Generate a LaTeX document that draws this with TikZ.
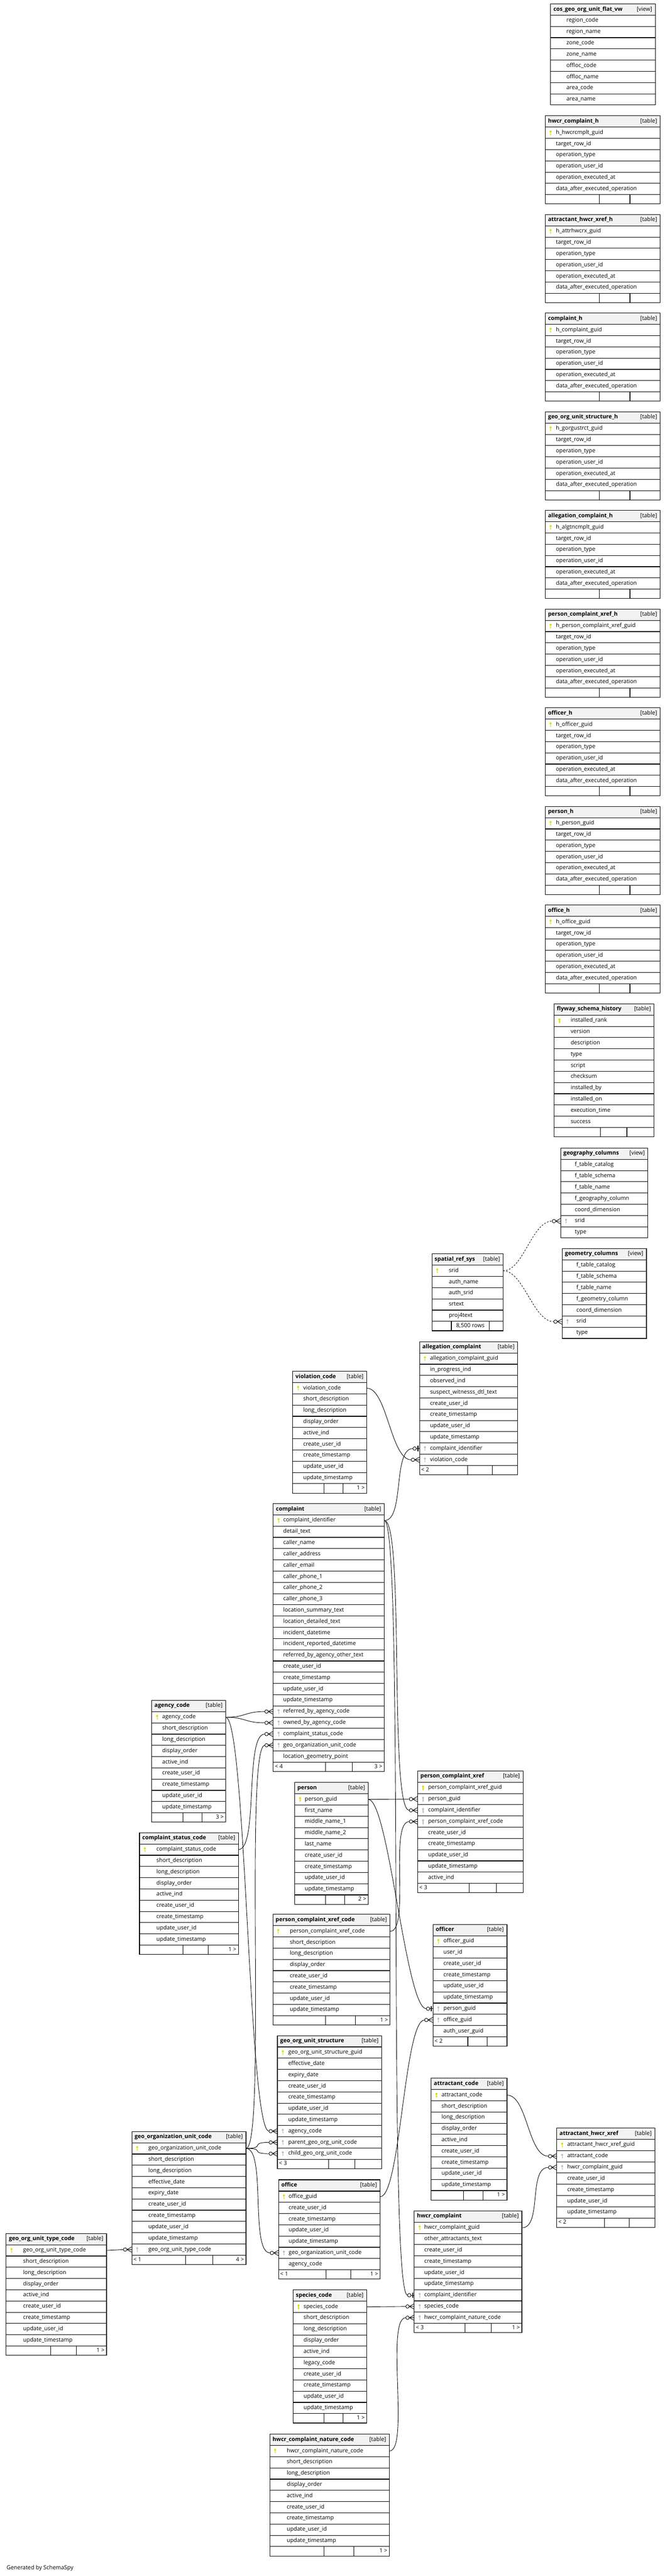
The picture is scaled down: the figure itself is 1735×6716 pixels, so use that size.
\documentclass[tikz,border=0pt]{standalone}
\usepackage{fontspec}
\setmainfont{Open Sans}
\usepackage{tikz}
\usetikzlibrary{positioning}
\definecolor{colorhead}{RGB}{242,242,242}
\definecolor{colorpk}  {RGB}{222,222,0  }
\definecolor{colorfk}  {RGB}{190,190,190}
\definecolor{colortext}{RGB}{0  ,0  ,0  }
\pgfdeclarelayer{links}
\pgfsetlayers{links,main}
\def\flagp{p}
\def\flagf{f}

% #1 name, #2 left, #3 top, #4 width, #5 text indent, #6 kind, #7 columns
\newcommand{\dbtable}[7]{%
  \pgfmathsetmacro\tx{#2}\pgfmathsetmacro\ty{#3}\pgfmathsetmacro\tw{#4}%
  \pgfmathsetmacro\tcx{\tx+\tw/2}%
  \node[headbox,minimum width=\tw*0.75pt] (#1) at (\tcx,\ty+14.75) {};
  \node[headtxt,anchor=west] (#1-title) at (\tx+7,\ty+14.75) {\bfseries #1};
  \node[headtxt,anchor=east] (#1-kind) at (\tx+\tw-8,\ty+14.75) {[#6]};
  \foreach \k/\col [count=\i] in {#7} {
    \pgfmathsetmacro\ry{\ty+29.5+(\i-0.5)*29.3}
    \node[rowbox,minimum width=\tw*0.75pt] (#1-\i) at (\tcx,\ry) {};
    \node[coltxt,anchor=west] (#1-\i-txt) at (\tx+#5,\ry) {\col};
    \ifx\k\flagp \pic[color=colorpk] at (\tx+14,\ry) {keyicon};\fi
    \ifx\k\flagf \pic[color=colorfk] at (\tx+14,\ry) {keyicon};\fi
    \xdef\tn{\i}
  }
}
% #1 name, #2 #3 cell borders, #4 left, #5 middle, #6 right
\newcommand{\dbfoot}[6]{%
  \pgfmathsetmacro\fy{\ty+29.5+\tn*29.3+12.25}%
  \node[footbox,minimum width=\tw*0.75pt] (#1-foot) at (\tcx,\fy) {};
  \draw[cellline] (#2,\fy-12.25) -- (#2,\fy+12.25) (#3,\fy-12.25) -- (#3,\fy+12.25);
  \node[foottxt,anchor=west] (#1-left) at (\tx+4,\fy) {#4};
  \node[foottxt] (#1-mid) at ({(#2+#3)/2},\fy) {#5};
  \node[foottxt,anchor=east] (#1-right) at (\tx+\tw-5,\fy) {#6};
}
% relations: parent key row -> child row
\newcommand{\linkmany}[2]{%
  \begin{pgfonlayer}{links}
    \draw[link] (#1.east) .. controls ([xshift=40pt]#1.east) and ([xshift=-56.5pt]#2.west) .. ([xshift=-16.5pt]#2.west);
  \end{pgfonlayer}
  \pic at (#2.west) {manyend};
}
\newcommand{\linkone}[2]{%
  \begin{pgfonlayer}{links}
    \draw[link] (#1.east) .. controls ([xshift=40pt]#1.east) and ([xshift=-53.1pt]#2.west) .. ([xshift=-13.1pt]#2.west);
  \end{pgfonlayer}
  \pic at (#2.west) {oneend};
}
\newcommand{\linkflat}[2]{%
  \begin{pgfonlayer}{links}
    \draw[link] (#1.east) -- ([xshift=-16.5pt]#2.west);
  \end{pgfonlayer}
  \pic at (#2.west) {manyend};
}
\newcommand{\linkview}[2]{%
  \begin{pgfonlayer}{links}
    \draw[link,dashed] (#1.east) .. controls ([xshift=40pt]#1.east) and ([xshift=-56.5pt]#2.west) .. ([xshift=-16.5pt]#2.west);
  \end{pgfonlayer}
  \pic at (#2.west) {manyend};
}

\begin{document}
\catcode`\_=12
\begin{tikzpicture}[
    x=0.75pt, y=-0.75pt,
    font={\fontsize{11}{13}\selectfont},
    headbox/.style={draw=colortext,fill=colorhead,line width=1.1pt,minimum height=29.5*0.75pt,inner sep=0pt,outer sep=0pt,rectangle},
    rowbox/.style={draw=colortext,fill=white,line width=1.1pt,minimum height=29.3*0.75pt,inner sep=0pt,outer sep=0pt,rectangle},
    footbox/.style={rowbox,minimum height=24.5*0.75pt},
    cellline/.style={draw=colortext,line width=1.1pt},
    headtxt/.style={inner sep=0pt,text=colortext,text height=7.9pt,text depth=2.6pt},
    coltxt/.style={inner sep=0pt,text=colortext,text height=7.9pt,text depth=2.6pt},
    foottxt/.style={inner sep=0pt,text=colortext,text height=7.9pt,text depth=2.6pt},
    link/.style={draw=colortext,line width=0.9pt},
    keyicon/.pic={
      \fill (0,-3.4) circle[radius=2.7];
      \draw[line width=1.3pt] (0,-2) -- (0,6.5);
      \draw[line width=1pt] (0,3.6) -- (2.2,3.6);
    },
    manyend/.pic={
      \draw[line width=0.9pt] (-13,0) -- (0,0) (-13,0) -- (0,-7) (-13,0) -- (0,7);
      \draw[line width=0.9pt,fill=white] (-17.5,0) circle[radius=4.5];
    },
    oneend/.pic={
      \draw[line width=0.9pt] (-8.5,0) -- (0,0);
      \draw[line width=1.8pt] (-4,-7) -- (-4,7);
      \draw[line width=0.9pt,fill=white] (-13,0) circle[radius=4.5];
    },
]
    \useasboundingbox (0,0) rectangle (1735,6716);

    % Views
    \dbtable{cos_geo_org_unit_flat_vw}{1437}{10}{273}{41}{view}{n/region_code, n/region_name, n/zone_code, n/zone_name, n/offloc_code, n/offloc_name, n/area_code, n/area_name}
    \dbtable{geography_columns}{1463}{2993}{228}{37}{view}{n/f_table_catalog, n/f_table_schema, n/f_table_name, n/f_geography_column, n/coord_dimension, f/srid, n/type}
    \dbtable{geometry_columns}{1467}{3255}{220}{37}{view}{n/f_table_catalog, n/f_table_schema, n/f_table_name, n/f_geometry_column, n/coord_dimension, f/srid, n/type}

    % History tables
    \foreach \hname/\hkey [count=\j] in {hwcr_complaint_h/h_hwcrcmplt_guid, attractant_hwcr_xref_h/h_attrhwcrx_guid, complaint_h/h_complaint_guid, geo_org_unit_structure_h/h_gorgustrct_guid, allegation_complaint_h/h_algtncmplt_guid, person_complaint_xref_h/h_person_complaint_xref_guid, officer_h/h_officer_guid, person_h/h_person_guid, office_h/h_office_guid} {
      \dbtable{\hname}{1423}{302+(\j-1)*257.2}{300}{27.5}{table}{p/\hkey, n/target_row_id, n/operation_type, n/operation_user_id, n/operation_executed_at, n/data_after_executed_operation}
      \dbfoot{\hname}{1564}{1644}{}{}{}
    }

    % Tables
    \dbtable{flyway_schema_history}{1446}{2617}{261}{43}{table}{p/installed_rank, n/version, n/description, n/type, n/script, n/checksum, n/installed_by, n/installed_on, n/execution_time, n/success}
    \dbfoot{flyway_schema_history}{1567}{1636}{}{}{}

    \dbtable{spatial_ref_sys}{1127}{3269}{186}{44}{table}{p/srid, n/auth_name, n/auth_srid, n/srtext, n/proj4text}
    \dbfoot{spatial_ref_sys}{1178}{1277}{}{8,500 rows}{}

    \dbtable{allegation_complaint}{1095}{3498}{256}{27}{table}{p/allegation_complaint_guid, n/in_progress_ind, n/observed_ind, n/suspect_witnesss_dtl_text, n/create_user_id, n/create_timestamp, n/update_user_id, n/update_timestamp, f/complaint_identifier, f/violation_code}
    \dbfoot{allegation_complaint}{1220}{1285}{< 2}{}{}

    \dbtable{violation_code}{764}{3575}{193}{27}{table}{p/violation_code, n/short_description, n/long_description, n/display_order, n/active_ind, n/create_user_id, n/create_timestamp, n/update_user_id, n/update_timestamp}
    \dbfoot{violation_code}{845}{895}{}{}{1 >}

    \dbtable{complaint}{713}{3920}{290}{26}{table}{p/complaint_identifier, n/detail_text, n/caller_name, n/caller_address, n/caller_email, n/caller_phone_1, n/caller_phone_2, n/caller_phone_3, n/location_summary_text, n/location_detailed_text, n/incident_datetime, n/incident_reported_datetime, n/referred_by_agency_other_text, n/create_user_id, n/create_timestamp, n/update_user_id, n/update_timestamp, f/referred_by_agency_code, f/owned_by_agency_code, f/complaint_status_code, f/geo_organization_unit_code, n/location_geometry_point}
    \dbfoot{complaint}{849}{919}{< 4}{}{3 >}

    \dbtable{agency_code}{396}{4433}{193}{27}{table}{p/agency_code, n/short_description, n/long_description, n/display_order, n/active_ind, n/create_user_id, n/create_timestamp, n/update_user_id, n/update_timestamp}
    \dbfoot{agency_code}{477}{527}{}{}{3 >}

    \dbtable{complaint_status_code}{364}{4778}{258}{44}{table}{p/complaint_status_code, n/short_description, n/long_description, n/display_order, n/active_ind, n/create_user_id, n/create_timestamp, n/update_user_id, n/update_timestamp}
    \dbfoot{complaint_status_code}{478}{543}{}{}{1 >}

    \dbtable{person}{769}{4647}{192}{26}{table}{p/person_guid, n/first_name, n/middle_name_1, n/middle_name_2, n/last_name, n/create_user_id, n/create_timestamp, n/update_user_id, n/update_timestamp}
    \dbfoot{person}{850}{899}{}{}{2 >}

    \dbtable{person_complaint_xref}{1090}{4617}{275}{27}{table}{p/person_complaint_xref_guid, f/person_guid, f/complaint_identifier, f/person_complaint_xref_code, n/create_user_id, n/create_timestamp, n/update_user_id, n/update_timestamp, n/active_ind}
    \dbfoot{person_complaint_xref}{1224}{1295}{< 3}{}{}

    \dbtable{person_complaint_xref_code}{712}{4991}{306}{44}{table}{p/person_complaint_xref_code, n/short_description, n/long_description, n/display_order, n/create_user_id, n/create_timestamp, n/update_user_id, n/update_timestamp}
    \dbfoot{person_complaint_xref_code}{850}{928}{}{}{1 >}

    \dbtable{officer}{1130}{5017}{193}{27}{table}{p/officer_guid, n/user_id, n/create_user_id, n/create_timestamp, n/update_user_id, n/update_timestamp, f/person_guid, f/office_guid, n/auth_user_guid}
    \dbfoot{officer}{1221}{1271}{< 2}{}{}

    \dbtable{geo_org_unit_structure}{724}{5307}{272}{28}{table}{p/geo_org_unit_structure_guid, n/effective_date, n/expiry_date, n/create_user_id, n/create_timestamp, n/update_user_id, n/update_timestamp, f/agency_code, f/parent_geo_org_unit_code, f/child_geo_org_unit_code}
    \dbfoot{geo_org_unit_structure}{858}{926}{< 3}{}{}

    \dbtable{attractant_code}{1125}{5418}{198}{27}{table}{p/attractant_code, n/short_description, n/long_description, n/display_order, n/active_ind, n/create_user_id, n/create_timestamp, n/update_user_id, n/update_timestamp}
    \dbfoot{attractant_code}{1209}{1261}{}{}{1 >}

    \dbtable{attractant_hwcr_xref}{1453}{5548}{256}{27}{table}{p/attractant_hwcr_xref_guid, f/attractant_code, f/hwcr_complaint_guid, n/create_user_id, n/create_timestamp, n/update_user_id, n/update_timestamp}
    \dbfoot{attractant_hwcr_xref}{1578}{1642}{< 2}{}{}

    \dbtable{geo_organization_unit_code}{344}{5557}{298}{43}{table}{p/geo_organization_unit_code, n/short_description, n/long_description, n/effective_date, n/expiry_date, n/create_user_id, n/create_timestamp, n/update_user_id, n/update_timestamp, f/geo_org_unit_type_code}
    \dbfoot{geo_organization_unit_code}{484}{556}{< 1}{}{4 >}

    \dbtable{geo_org_unit_type_code}{16}{5823}{262}{44}{table}{p/geo_org_unit_type_code, n/short_description, n/long_description, n/display_order, n/active_ind, n/create_user_id, n/create_timestamp, n/update_user_id, n/update_timestamp}
    \dbfoot{geo_org_unit_type_code}{132}{199}{}{}{1 >}

    \dbtable{office}{727}{5683}{265}{26}{table}{p/office_guid, n/create_user_id, n/create_timestamp, n/update_user_id, n/update_timestamp, f/geo_organization_unit_code, n/agency_code}
    \dbfoot{office}{851}{915}{< 1}{}{1 >}

    \dbtable{hwcr_complaint}{1081}{5764}{281}{26}{table}{p/hwcr_complaint_guid, n/other_attractants_text, n/create_user_id, n/create_timestamp, n/update_user_id, n/update_timestamp, f/complaint_identifier, f/species_code, f/hwcr_complaint_nature_code}
    \dbfoot{hwcr_complaint}{1214}{1282}{< 3}{}{1 >}

    \dbtable{species_code}{765}{5970}{192}{27}{table}{p/species_code, n/short_description, n/long_description, n/display_order, n/active_ind, n/legacy_code, n/create_user_id, n/create_timestamp, n/update_user_id, n/update_timestamp}
    \dbfoot{species_code}{845}{895}{}{}{1 >}

    \dbtable{hwcr_complaint_nature_code}{704}{6346}{312}{44}{table}{p/hwcr_complaint_nature_code, n/short_description, n/long_description, n/display_order, n/active_ind, n/create_user_id, n/create_timestamp, n/update_user_id, n/update_timestamp}
    \dbfoot{hwcr_complaint_nature_code}{845}{924}{}{}{1 >}

    % Text
    \node[coltxt,anchor=west] (credit) at (17,6696) {Generated by SchemaSpy};

    % Arrows
    \linkmany{violation_code-1}{allegation_complaint-10}
    \linkone{complaint-1}{allegation_complaint-9}
    \linkmany{complaint-1}{person_complaint_xref-3}
    \linkone{complaint-1}{hwcr_complaint-7}
    \linkmany{agency_code-1}{complaint-18}
    \linkmany{agency_code-1}{complaint-19}
    \linkmany{agency_code-1}{geo_org_unit_structure-8}
    \linkmany{complaint_status_code-1}{complaint-20}
    \linkmany{geo_organization_unit_code-1}{complaint-21}
    \linkmany{geo_organization_unit_code-1}{geo_org_unit_structure-9}
    \linkmany{geo_organization_unit_code-1}{geo_org_unit_structure-10}
    \linkmany{geo_organization_unit_code-1}{office-6}
    \linkflat{geo_org_unit_type_code-1}{geo_organization_unit_code-10}
    \linkflat{person-1}{person_complaint_xref-2}
    \linkone{person-1}{officer-7}
    \linkmany{person_complaint_xref_code-1}{person_complaint_xref-4}
    \linkmany{office-1}{officer-8}
    \linkmany{attractant_code-1}{attractant_hwcr_xref-2}
    \linkmany{hwcr_complaint-1}{attractant_hwcr_xref-3}
    \linkflat{species_code-1}{hwcr_complaint-8}
    \linkmany{hwcr_complaint_nature_code-1}{hwcr_complaint-9}
    \linkview{spatial_ref_sys-1}{geography_columns-6}
    \linkview{spatial_ref_sys-1}{geometry_columns-6}

\end{tikzpicture}
\end{document}
